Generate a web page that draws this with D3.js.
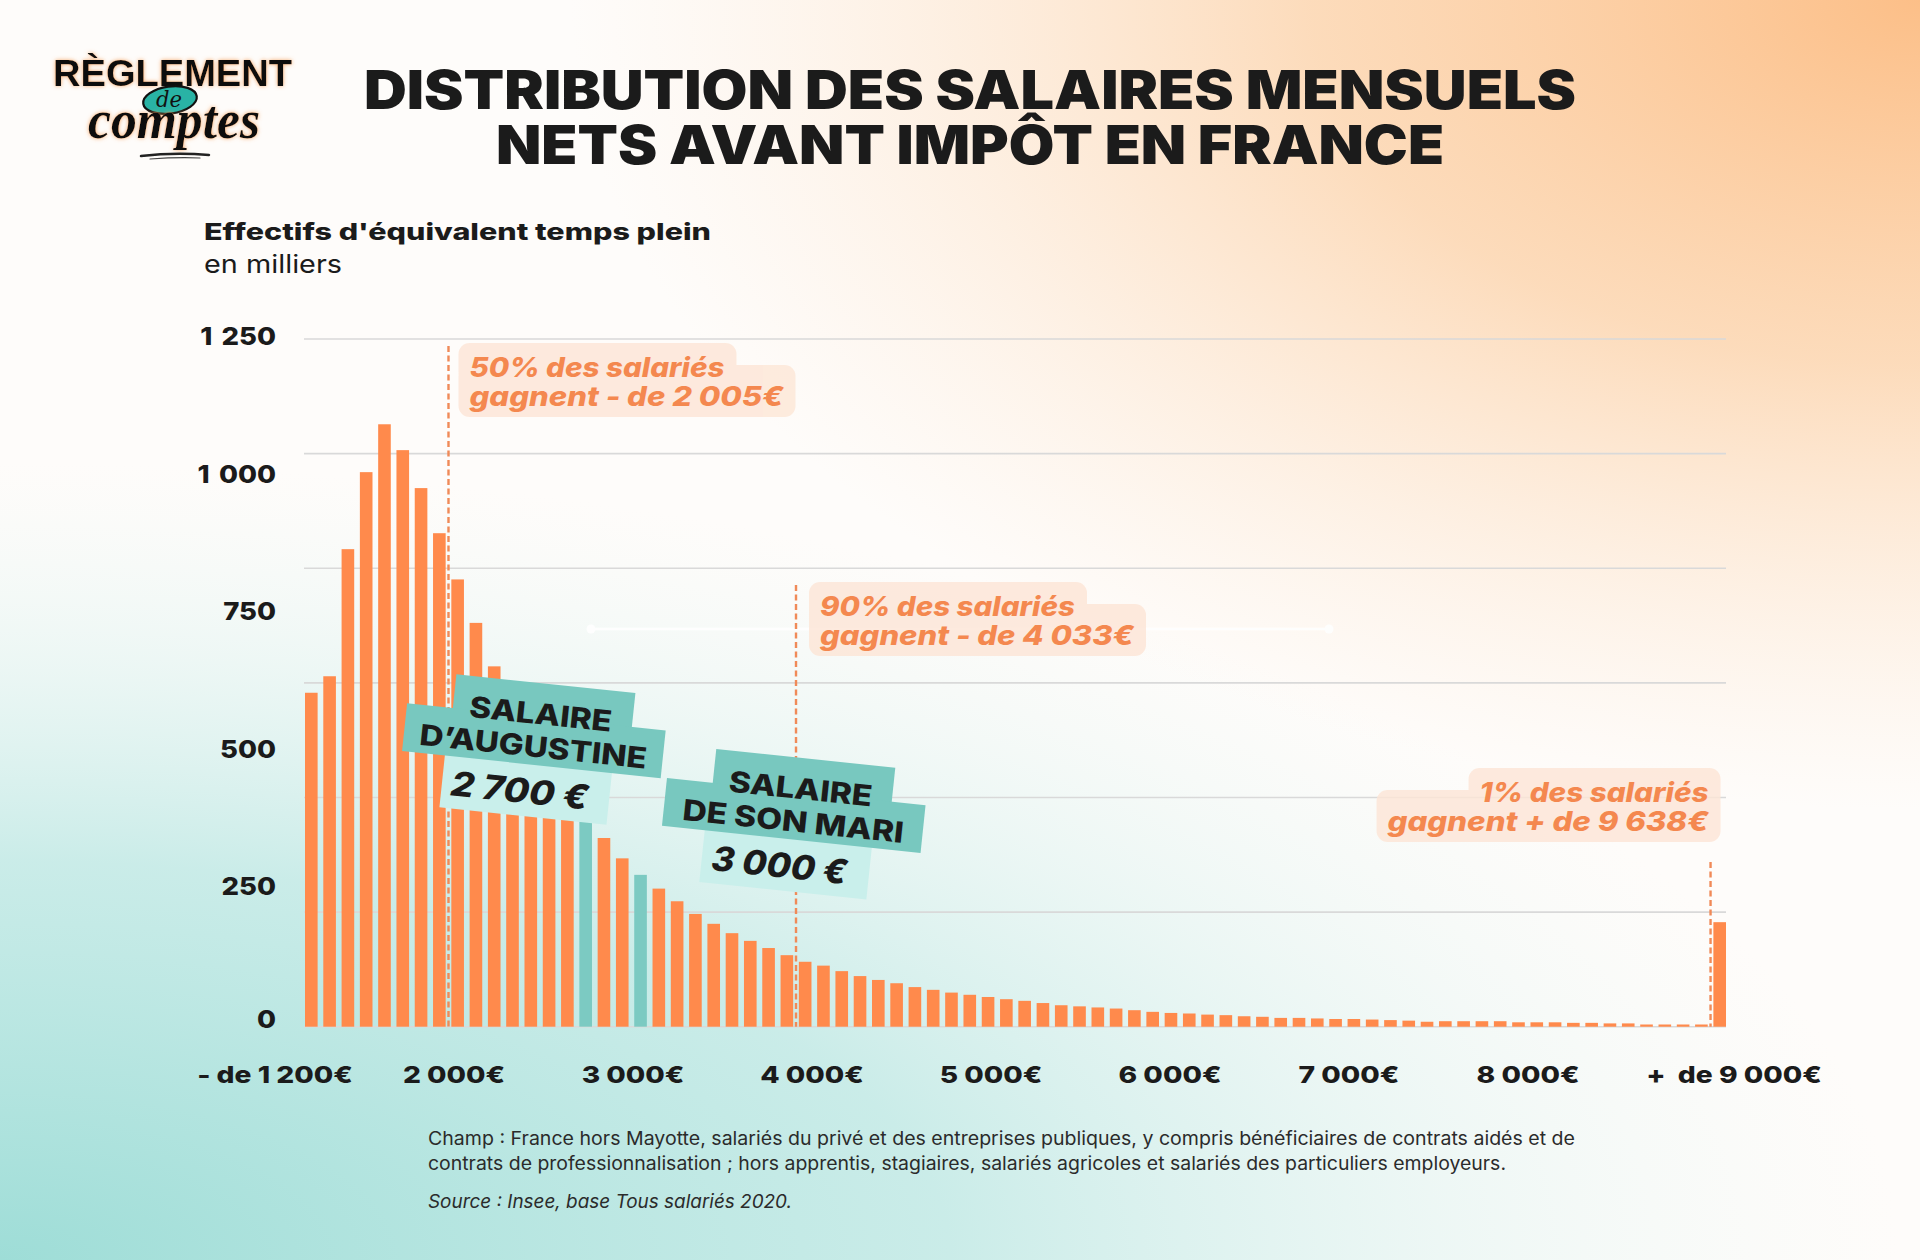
<!DOCTYPE html>
<html><head><meta charset="utf-8">
<script src="https://cdn.jsdelivr.net/npm/d3@7"></script>
<style>
html,body{margin:0;padding:0;background:#fff;}
body{width:1920px;height:1260px;overflow:hidden;}
svg{display:block;}
text{white-space:pre;}
</style></head><body>
<svg id="chart" width="1920" height="1260"></svg>
<script>
// ---------------- DATA ----------------
const bins = [1200,1300,1400,1500,1600,1700,1800,1900,2000,2100,2200,2300,2400,2500,2600,2700,2800,2900,3000,3100,3200,3300,3400,3500,3600,3700,3800,3900,4000,4100,4200,4300,4400,4500,4600,4700,4800,4900,5000,5100,5200,5300,5400,5500,5600,5700,5800,5900,6000,6100,6200,6300,6400,6500,6600,6700,6800,6900,7000,7100,7200,7300,7400,7500,7600,7700,7800,7900,8000,8100,8200,8300,8400,8500,8600,8700,8800,9000];
const effectifs = [607,637,868,1008,1095,1048,979,897,813,734,655,592,535,482,432,388,343,306,276,251,228,205,187,170,156,143,130,118,111,101,92,85,79,72,67,62,58,54,50,47,43,39,37,35,33,30,27,25,24,22,21,19,18,16,16,15,14,14,13,12,11,9,10,10,10,10,8,8,8,7,7,6,6,4,4,4,4,190];
const highlightBins = [2700, 3000];
const yTickValues = [0, 250, 500, 750, 1000, 1250];
const yTickLabels = ["0", "250", "500", "750", "1\u2004000", "1\u2004250"];
const xTickLabels = ["- de 1 200€","2 000€","3 000€","4 000€","5 000€","6 000€","7 000€","8 000€","+\u00A0\u00A0de 9 000€"];
const quantileBins = [2000, 3900, 9000];
const quantileLines = [
  ["50% des salariés", "gagnent - de 2 005€"],
  ["90% des salariés", "gagnent - de 4 033€"],
  ["1% des salariés", "gagnent + de 9 638€"]
];
const personBins = [2700, 3000];
const personLines = [["SALAIRE", "D’AUGUSTINE"], ["SALAIRE", "DE SON MARI"]];
const personAmounts = ["2 700 €", "3 000 €"];
const titleLines = ["DISTRIBUTION DES SALAIRES MENSUELS", "NETS AVANT IMPÔT EN FRANCE"];
const footLines = [
  "Champ : France hors Mayotte, salariés du privé et des entreprises publiques, y compris bénéficiaires de contrats aidés et de",
  "contrats de professionnalisation ; hors apprentis, stagiaires, salariés agricoles et salariés des particuliers employeurs."
];
const sourceLine = "Source : Insee, base Tous salariés 2020.";

// ---------------- STYLE ----------------
const ORANGE = "#ff8a4c", TEAL = "#7ccac2", TEAL_DARK = "#78c8bf", TEAL_LIGHT = "#c9efeb";
const NOTE = "#f4884f", INK = "#1b1b1b";
const FONT = "Inter, 'Open Sans', sans-serif";

const svg = d3.select("#chart");
const defs = svg.append("defs");

// background
const gOr = defs.append("radialGradient").attr("id","bgOr").attr("gradientUnits","userSpaceOnUse")
  .attr("cx",1920).attr("cy",0).attr("r",1350).attr("gradientTransform","translate(1920,0) scale(1,0.6) translate(-1920,0)");
gOr.append("stop").attr("offset","0%").attr("stop-color","#fcbf88").attr("stop-opacity",1);
gOr.append("stop").attr("offset","45%").attr("stop-color","#fcd2a9").attr("stop-opacity",0.78);
gOr.append("stop").attr("offset","100%").attr("stop-color","#fde6d0").attr("stop-opacity",0);
const gTe = defs.append("radialGradient").attr("id","bgTe").attr("gradientUnits","userSpaceOnUse")
  .attr("cx",0).attr("cy",1260).attr("r",1900).attr("gradientTransform","translate(0,1260) scale(1,0.42) translate(0,-1260)");
gTe.append("stop").attr("offset","0%").attr("stop-color","#9eddd7").attr("stop-opacity",1);
gTe.append("stop").attr("offset","50%").attr("stop-color","#bde8e4").attr("stop-opacity",0.8);
gTe.append("stop").attr("offset","100%").attr("stop-color","#e6f6f4").attr("stop-opacity",0);
svg.append("rect").attr("width",1920).attr("height",1260).attr("fill","#fefcfa");
svg.append("rect").attr("width",1920).attr("height",1260).attr("fill","url(#bgTe)");
svg.append("rect").attr("width",1920).attr("height",1260).attr("fill","url(#bgOr)");

const glow = defs.append("filter").attr("id","glow").attr("x","-10%").attr("y","-30%").attr("width","120%").attr("height","160%");
glow.append("feDropShadow").attr("dx",0).attr("dy",0).attr("stdDeviation",2.2).attr("flood-color","#f5a25f").attr("flood-opacity",0.9);

// stretch helper: widen a text selection to mimic the wide geometric face
function stretch(sel, k) {
  sel.each(function () {
    const w = this.getComputedTextLength();
    d3.select(this).attr("textLength", w * k).attr("lengthAdjust", "spacingAndGlyphs");
  });
}

// ---------------- SCALES ----------------
const x = d3.scaleBand().domain(bins).range([305, 1726]).paddingInner(0.31).paddingOuter(0);
const y = d3.scaleLinear().domain([0, 1250]).range([1026.7, 339]);
const gap = x.step() - x.bandwidth();
const xTick = d3.scalePoint().domain(xTickLabels).range([x.range()[0] - 30, x.range()[1] - 19]);

// gridlines
svg.append("g").selectAll("line").data(d3.range(7).map(i => 1250 * i / 6)).join("line")
  .attr("x1", x.range()[0] - 1).attr("x2", x.range()[1]).attr("y1", d => y(d)).attr("y2", d => y(d))
  .attr("stroke", "#d9d9d9").attr("stroke-width", 1.6);

// white helper line
const wl = svg.append("g").attr("opacity",0.9);
wl.append("line").attr("x1",591).attr("x2",1329).attr("y1",629).attr("y2",629).attr("stroke","#ffffff").attr("stroke-width",2.5);
wl.selectAll("circle").data([591,1329]).join("circle").attr("cx",d=>d).attr("cy",629).attr("r",4.5).attr("fill","#fff");

// bars
svg.append("g").selectAll("rect").data(bins.map((b, i) => ({ b, v: effectifs[i] }))).join("rect")
  .attr("x", d => x(d.b)).attr("width", x.bandwidth())
  .attr("y", d => y(d.v)).attr("height", d => y(0) - y(d.v))
  .attr("fill", d => highlightBins.includes(d.b) ? TEAL : ORANGE);

// y tick labels
const yt = svg.append("g").selectAll("text").data(yTickValues).join("text")
  .attr("x", 276).attr("y", d => y(d) - (d === 0 ? 8 : 3))
  .attr("text-anchor", "end").attr("dominant-baseline", "central")
  .attr("font-family", FONT).attr("font-weight", 800).attr("font-size", 25).attr("fill", INK)
  .text((d, i) => yTickLabels[i]);
stretch(yt, 1.1);

// x tick labels
const xt = svg.append("g").selectAll("text").data(xTickLabels).join("text")
  .attr("x", (d, i) => xTick(d) + (i === xTickLabels.length - 1 ? 27 : 0)).attr("y", 1083)
  .attr("text-anchor", "middle")
  .attr("font-family", FONT).attr("font-weight", 800).attr("font-size", 23.5).attr("fill", INK)
  .text(d => d);
stretch(xt, 1.2);

// ---------------- QUANTILE NOTES ----------------
const noteLayout = [
  { top: 346, tx: 21, b1: 377, align: "start", w: [255, 314] },
  { top: 585, tx: 24, b1: 616, align: "start", w: [255, 314] },
  { top: 862, tx: -2, b1: 802, align: "end", w: [229, 321] }
];
quantileBins.forEach((bin, i) => {
  const L = noteLayout[i];
  const lx = x(bin) - gap / 2;
  svg.append("line").attr("x1", lx).attr("x2", lx).attr("y1", L.top).attr("y2", y(0))
    .attr("stroke", "#f08a58").attr("stroke-width", 2.4).attr("stroke-dasharray", "6,3.5");
  const tx = lx + L.tx, b1 = L.b1, b2 = b1 + 29;
  const box = svg.append("g").attr("opacity", 0.82);
  const padL = 11, padR = 12;
  const sgn = L.align === "start" ? 0 : 1;
  box.append("rect").attr("x", tx - sgn * L.w[0] - padL).attr("y", b1 - 34).attr("width", L.w[0] + padL + padR).attr("height", 40).attr("rx", 11).attr("fill", "#fde6d7");
  box.append("rect").attr("x", tx - sgn * L.w[1] - padL).attr("y", b1 - 12).attr("width", L.w[1] + padL + padR).attr("height", 52).attr("rx", 11).attr("fill", "#fde6d7");
  quantileLines[i].forEach((t, j) => {
    svg.append("text").attr("x", tx).attr("y", j ? b2 : b1).attr("text-anchor", L.align)
      .attr("font-family", FONT).attr("font-style", "italic").attr("font-weight", 800).attr("font-size", 27)
      .attr("fill", NOTE).attr("textLength", L.w[j]).attr("lengthAdjust", "spacingAndGlyphs").text(t);
  });
});

// ---------------- PERSON LABELS ----------------
const personLayout = [{ dx: -46, cy: 745.7, w: [143, 228, 138] }, { dx: 159, cy: 820.4, w: [144, 222, 136] }];
personBins.forEach((bin, i) => {
  const P = personLayout[i];
  const g = svg.append("g").attr("transform", `translate(${x(bin) + P.dx},${P.cy}) rotate(6)`);
  g.append("rect").attr("x", -87).attr("y", 17).attr("width", 168).attr("height", 54).attr("fill", TEAL_LIGHT);
  g.append("rect").attr("x", -84).attr("y", -63).attr("width", 180).attr("height", 40).attr("fill", TEAL_DARK);
  g.append("rect").attr("x", -130).attr("y", -29).attr("width", 260).attr("height", 48).attr("fill", TEAL_DARK);
  const lines = personLines[i];
  g.append("text").attr("x", 4).attr("y", -22).attr("text-anchor", "middle")
    .attr("font-family", FONT).attr("font-weight", 800).attr("font-size", 29).attr("fill", INK)
    .attr("textLength", P.w[0]).attr("lengthAdjust", "spacingAndGlyphs").text(lines[0]);
  g.append("text").attr("x", 0).attr("y", 11).attr("text-anchor", "middle")
    .attr("font-family", FONT).attr("font-weight", 800).attr("font-size", 29).attr("fill", INK)
    .attr("textLength", P.w[1]).attr("lengthAdjust", "spacingAndGlyphs").text(lines[1]);
  g.append("text").attr("x", -9).attr("y", 58).attr("text-anchor", "middle")
    .attr("font-family", FONT).attr("font-style", "italic").attr("font-weight", 800).attr("font-size", 34).attr("fill", INK)
    .attr("textLength", P.w[2]).attr("lengthAdjust", "spacingAndGlyphs").text(personAmounts[i]);
});

// ---------------- TITLES ----------------
[[109, 1212], [164, 948]].forEach(([by, w], i) => {
  svg.append("text").attr("x", 970).attr("y", by).attr("text-anchor", "middle")
    .attr("font-family", FONT).attr("font-weight", 900).attr("font-size", 53).attr("fill", INK)
    .attr("textLength", w).attr("lengthAdjust", "spacingAndGlyphs").text(titleLines[i]);
});
svg.append("text").attr("x", 204).attr("y", 240)
  .attr("font-family", FONT).attr("font-weight", 800).attr("font-size", 23).attr("fill", INK)
  .attr("textLength", 507).attr("lengthAdjust", "spacingAndGlyphs").text("Effectifs d'équivalent temps plein");
svg.append("text").attr("x", 204).attr("y", 273)
  .attr("font-family", FONT).attr("font-weight", 400).attr("font-size", 25).attr("fill", INK)
  .attr("textLength", 138).attr("lengthAdjust", "spacingAndGlyphs").text("en milliers");

// footer
[[1145, 1147], [1170, 1078]].forEach(([by, w], i) => {
  svg.append("text").attr("x", 428).attr("y", by)
    .attr("font-family", FONT).attr("font-size", 18.5).attr("fill", "#2b2b2b")
    .attr("textLength", w).attr("lengthAdjust", "spacingAndGlyphs").text(footLines[i]);
});
svg.append("text").attr("x", 428).attr("y", 1208)
  .attr("font-family", FONT).attr("font-style", "italic").attr("font-size", 18.5).attr("fill", "#2b2b2b")
  .attr("textLength", 364).attr("lengthAdjust", "spacingAndGlyphs").text(sourceLine);

// ---------------- LOGO ----------------
const logo = svg.append("g");
logo.append("text").attr("x", 53).attr("y", 86)
  .attr("font-family", "'Liberation Sans', Arial, sans-serif").attr("font-weight", 700).attr("font-size", 37)
  .attr("fill", "#111").attr("filter", "url(#glow)")
  .attr("textLength", 239).attr("lengthAdjust", "spacingAndGlyphs").text("RÈGLEMENT");
logo.append("ellipse").attr("cx", 170).attr("cy", 100).attr("rx", 27).attr("ry", 13.5)
  .attr("transform", "rotate(-8,170,100)").attr("fill", "#29b3a5").attr("stroke", "#111").attr("stroke-width", 2.2);
logo.append("text").attr("x", 169).attr("y", 107).attr("text-anchor", "middle")
  .attr("font-family", "'DejaVu Serif', serif").attr("font-style", "italic").attr("font-size", 22).attr("fill", "#111")
  .attr("textLength", 26).attr("lengthAdjust", "spacingAndGlyphs").text("de");
logo.append("text").attr("x", 88).attr("y", 138)
  .attr("font-family", "'Liberation Serif', 'DejaVu Serif', serif").attr("font-style", "italic").attr("font-weight", 700).attr("font-size", 54)
  .attr("fill", "#111").attr("filter", "url(#glow)")
  .attr("textLength", 172).attr("lengthAdjust", "spacingAndGlyphs").text("comptes");
logo.append("path").attr("d", "M141,156 Q175,152 209,155").attr("stroke", "#222").attr("stroke-width", 2.5).attr("fill", "none").attr("stroke-linecap", "round");
logo.append("path").attr("d", "M150,159 Q178,157 200,158").attr("stroke", "#444").attr("stroke-width", 1.2).attr("fill", "none").attr("stroke-linecap", "round");
</script>
</body></html>
